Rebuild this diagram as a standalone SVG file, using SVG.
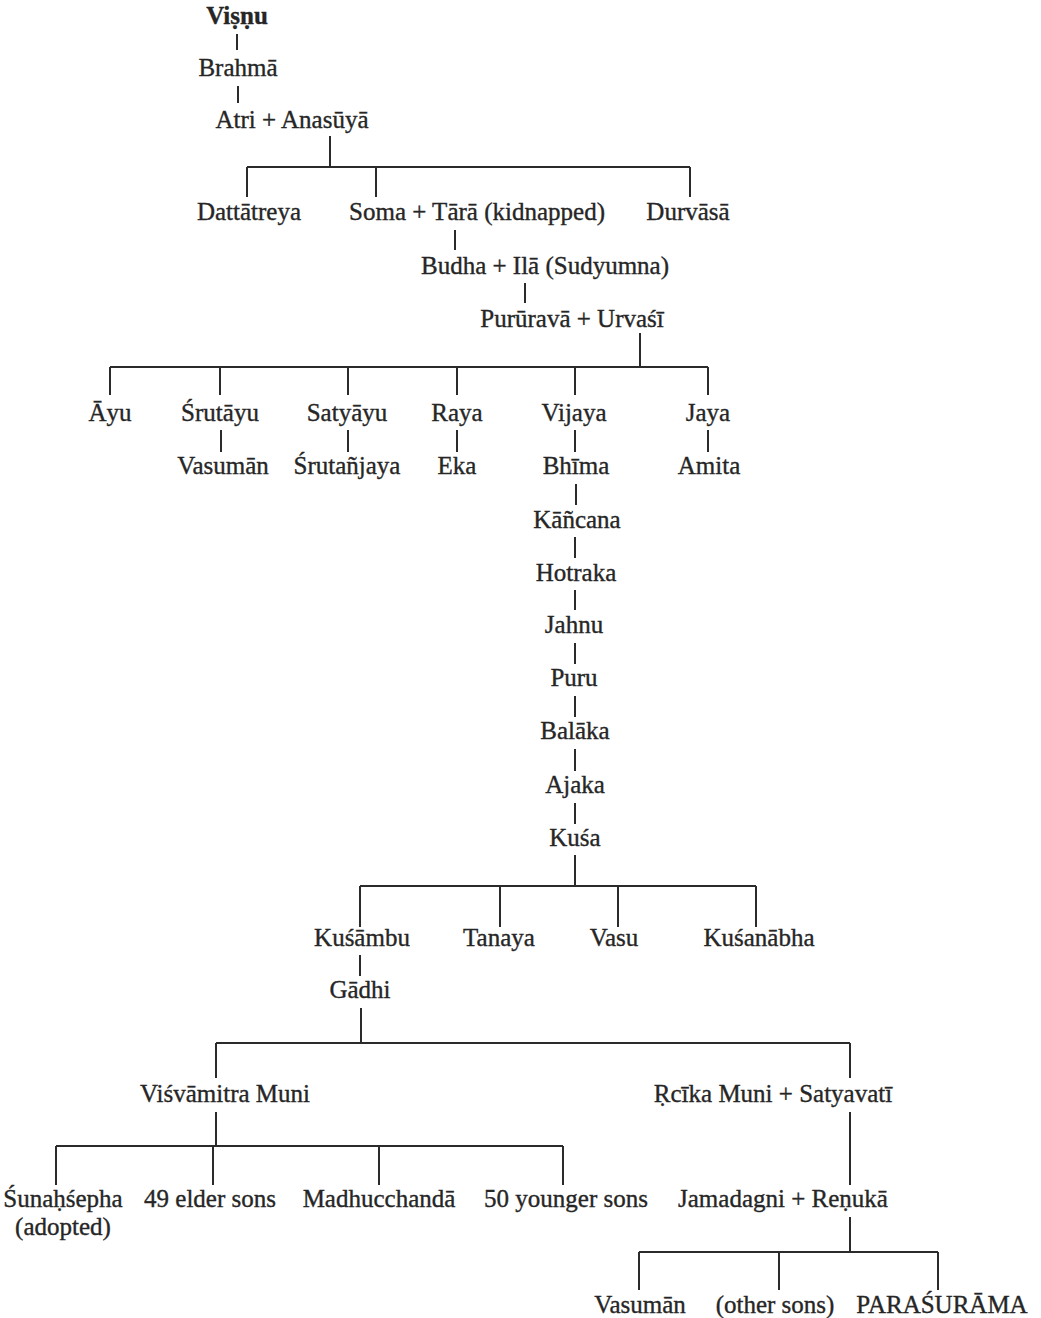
<svg xmlns="http://www.w3.org/2000/svg" width="1041" height="1318" viewBox="0 0 1041 1318">
<style>
text{font-family:"Liberation Serif","Times New Roman",serif;font-size:25px;fill:#262626;stroke:#262626;stroke-width:0.35;text-anchor:middle}
.b{font-weight:bold}
#connectors path{stroke:#2b2b2b;stroke-width:2;fill:none}
</style>
<rect width="1041" height="1318" fill="#ffffff"/>
<g id="connectors">
<path d="M237 34V50M238 86V103M330 136V167M247 167H690M247 167V197M376 167V197M690 167V197"/>
<path d="M455 230V250M525 283V303M640 333V367M110 367H708M110 367V395M220 367V395M348 367V395M457 367V395M575 367V395M708 367V395"/>
<path d="M221 430V452M348 430V452M457 430V452M575 430V452M708 430V452"/>
<path d="M576 484V505M575 537V558M575 590V610M575 643V664M575 696V717M575 749V771M575 803V824M575 855V886"/>
<path d="M360 886H756M360 886V927M500 886V927M618 886V927M756 886V927M360 955V976"/>
<path d="M361 1008V1043M216 1043H850M216 1043V1078M850 1043V1078"/>
<path d="M216 1112V1146M56 1146H563M56 1146V1185M213 1146V1185M379 1146V1185M563 1146V1185"/>
<path d="M850 1112V1185M850 1217V1252M639 1252H938M639 1252V1290M779 1252V1290M938 1252V1290"/>
</g>
<g id="n-vishnu"><text class="b" x="237" y="24">Viṣṇu</text></g>
<g id="n-brahma"><text x="238" y="76">Brahmā</text></g>
<g id="n-atri"><text x="292" y="128">Atri + Anasūyā</text></g>
<g id="n-dattatreya"><text x="249" y="220">Dattātreya</text></g>
<g id="n-soma"><text x="477" y="220">Soma + Tārā (kidnapped)</text></g>
<g id="n-durvasa"><text x="688" y="220">Durvāsā</text></g>
<g id="n-budha"><text x="545" y="274">Budha + Ilā (Sudyumna)</text></g>
<g id="n-pururava"><text x="572" y="327">Purūravā + Urvaśī</text></g>
<g id="n-ayu"><text x="110" y="421">Āyu</text></g>
<g id="n-srutayu"><text x="220" y="421">Śrutāyu</text></g>
<g id="n-satyayu"><text x="347" y="421">Satyāyu</text></g>
<g id="n-raya"><text x="457" y="421">Raya</text></g>
<g id="n-vijaya"><text x="574" y="421">Vijaya</text></g>
<g id="n-jaya"><text x="708" y="421">Jaya</text></g>
<g id="n-vasuman1"><text x="223" y="474">Vasumān</text></g>
<g id="n-srutanjaya"><text x="347" y="474">Śrutañjaya</text></g>
<g id="n-eka"><text x="457" y="474">Eka</text></g>
<g id="n-bhima"><text x="576" y="474">Bhīma</text></g>
<g id="n-amita"><text x="709" y="474">Amita</text></g>
<g id="n-kancana"><text x="577" y="528">Kāñcana</text></g>
<g id="n-hotraka"><text x="576" y="581">Hotraka</text></g>
<g id="n-jahnu"><text x="574" y="633">Jahnu</text></g>
<g id="n-puru"><text x="574" y="686">Puru</text></g>
<g id="n-balaka"><text x="575" y="739">Balāka</text></g>
<g id="n-ajaka"><text x="575" y="793">Ajaka</text></g>
<g id="n-kusa"><text x="575" y="846">Kuśa</text></g>
<g id="n-kusambu"><text x="362" y="946">Kuśāmbu</text></g>
<g id="n-tanaya"><text x="499" y="946">Tanaya</text></g>
<g id="n-vasu"><text x="614" y="946">Vasu</text></g>
<g id="n-kusanabha"><text x="759" y="946">Kuśanābha</text></g>
<g id="n-gadhi"><text x="360" y="998">Gādhi</text></g>
<g id="n-visvamitra"><text x="225" y="1102">Viśvāmitra Muni</text></g>
<g id="n-rcika"><text x="773" y="1102">Ṛcīka Muni + Satyavatī</text></g>
<g id="n-sunahsepha"><text x="63" y="1207">Śunaḥśepha</text><text x="63" y="1235">(adopted)</text></g>
<g id="n-elder"><text x="210" y="1207">49 elder sons</text></g>
<g id="n-madhucchanda"><text x="379" y="1207">Madhucchandā</text></g>
<g id="n-younger"><text x="566" y="1207">50 younger sons</text></g>
<g id="n-jamadagni"><text x="783" y="1207">Jamadagni + Reṇukā</text></g>
<g id="n-vasuman2"><text x="640" y="1313">Vasumān</text></g>
<g id="n-other"><text x="775" y="1313">(other sons)</text></g>
<g id="n-parasurama"><text x="942" y="1313">PARAŚURĀMA</text></g>
</svg>
